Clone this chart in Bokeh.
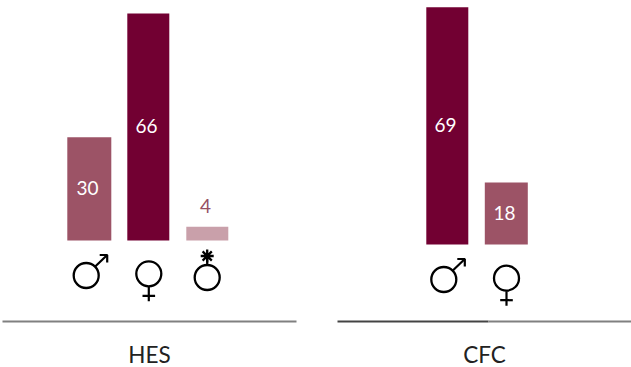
from bokeh.plotting import figure
from bokeh.layouts import row
from bokeh.models import Range1d
from bokeh.core.properties import value
from bokeh.embed import file_html
from bokeh.resources import INLINE

# data
hes_labels = ["male", "female", "other"]
hes_values = [30, 66, 4]
hes_colors = ["#9c5366", "#720032", "#c9a0aa"]
cfc_labels = ["male", "female"]
cfc_values = [69, 18]
cfc_colors = ["#720032", "#9c5366"]

FONT = "Lato"
PXU = 3.44   # pixels per value unit
SLOT = 59.0  # pixels per category slot
H = 367
BLACK = "#000000"


def panel(title, labels, values, colors, left, width, first_cx, base_y, bar_ws, title_x,
          icons, rule):
    x0 = (left - first_cx) / SLOT
    x1 = (left + width - first_cx) / SLOT
    y0 = (base_y - H) / PXU
    y1 = base_y / PXU
    p = figure(width=width, height=H, output_backend="svg", toolbar_location=None,
               x_range=Range1d(x0, x1), y_range=Range1d(y0, y1), min_border=0,
               outline_line_color=None, background_fill_color="white")
    p.axis.visible = False
    p.grid.visible = False

    X = lambda px: (px - first_cx) / SLOT
    Y = lambda py: (base_y - py) / PXU

    xs = list(range(len(values)))
    p.vbar(x=xs, top=values, width=[w / SLOT for w in bar_ws], bottom=0,
           fill_color=colors, line_color=None)

    for i, v in enumerate(values):
        small = v < 10
        yy = v + 6 if small else v / 2 + 0.3
        col = "#964f64" if small else "#ffffff"
        p.text([i - 0.03], [yy], text=[str(v)], text_font=value(FONT),
               text_font_size="19px", text_color=col, text_align="center", text_baseline="middle")

    for kind, cx, cy in icons:
        p.scatter([X(cx)], [Y(cy)], marker="circle", size=25, fill_color=None,
                  line_color=BLACK, line_width=2.3)
        if kind == "male":
            tipx, tipy = cx + 21, cy - 20.5
            p.line([X(cx + 9), X(tipx)], [Y(cy - 9), Y(tipy)], line_color=BLACK, line_width=2.2)
            p.line([X(tipx - 7.5), X(tipx), X(tipx)], [Y(tipy), Y(tipy), Y(tipy + 7.5)],
                   line_color=BLACK, line_width=2.2)
        elif kind == "female":
            p.line([X(cx), X(cx)], [Y(cy + 13), Y(cy + 27.5)], line_color=BLACK, line_width=2.2)
            p.line([X(cx - 6.3), X(cx + 6.3)], [Y(cy + 22), Y(cy + 22)], line_color=BLACK, line_width=2.2)
        else:
            p.line([X(cx), X(cx)], [Y(cy - 13), Y(cy - 20)], line_color=BLACK, line_width=2.2)
            p.scatter([X(cx)], [Y(cy - 21.5)], marker="asterisk", size=13, line_color=BLACK, line_width=2.3)

    for xa, xb, col in rule:
        p.line([X(xa), X(xb)], [Y(321), Y(321)], line_color=col, line_width=1.8)

    p.text([X(title_x)], [Y(354)], text=[title], text_font=value(FONT), text_font_size="22.5px",
           text_color="#222222", text_align="center", text_baseline="middle")
    return p


left = panel("HES", hes_labels, hes_values, hes_colors, 0, 316, 88.8, 240, [44, 42, 42], 149,
             [("male", 85.7, 275), ("female", 148.3, 273.3), ("other", 206.7, 277)],
             [(2, 296, "#808080")])
right = panel("CFC", cfc_labels, cfc_values, cfc_colors, 316, 315, 446.8, 244, [42, 43], 484,
              [("male", 443.3, 279), ("female", 506, 277.7)],
              [(337, 488, "#444444"), (488, 631, "#808080")])

page = row(left, right, spacing=0, styles={"position": "absolute", "left": "0px", "top": "0px"})
open("out.html", "w").write(file_html(page, INLINE))
